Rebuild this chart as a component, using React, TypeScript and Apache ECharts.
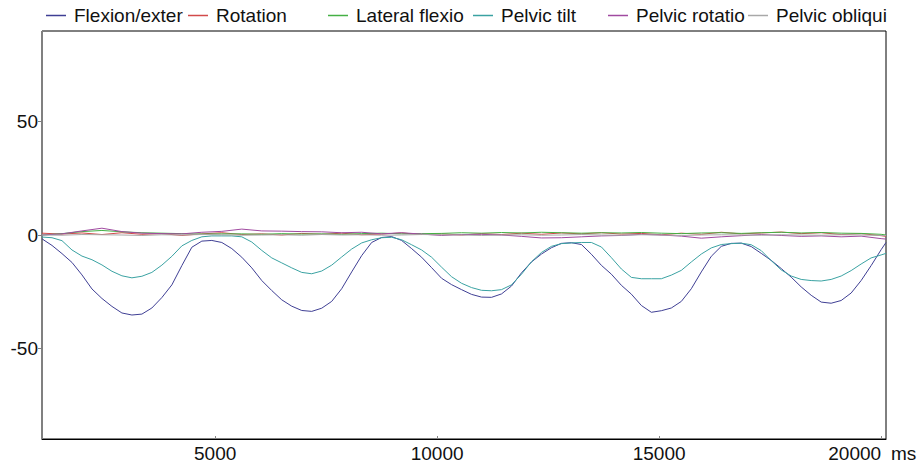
import React, { useEffect, useRef } from "react";
import * as echarts from "echarts";

const FONT = '"Liberation Sans", Arial, Helvetica, sans-serif';

// Series names as shown in the legend
const seriesNames = [
  "Flexion/exter",
  "Rotation",
  "Lateral flexio",
  "Pelvic tilt",
  "Pelvic rotatio",
  "Pelvic obliqui",
];

const xTickValues = [5000, 10000, 15000, 20000];
const yTickValues = [-50, 0, 50];

// Sample times (ms) for the two large-amplitude curves
const timesMain = [
  1100, 1325, 1550, 1775, 2000, 2225, 2450, 2675, 2900, 3125,
  3350, 3575, 3800, 4025, 4250, 4475, 4700, 4925, 5150, 5375,
  5600, 5825, 6050, 6275, 6500, 6725, 6950, 7175, 7400, 7625,
  7850, 8075, 8300, 8525, 8750, 8975, 9200, 9425, 9650, 9875,
  10100, 10325, 10550, 10775, 11000, 11225, 11450, 11675, 11900, 12125,
  12350, 12575, 12800, 13025, 13250, 13475, 13700, 13925, 14150, 14375,
  14600, 14825, 15050, 15275, 15500, 15725, 15950, 16175, 16400, 16625,
  16850, 17075, 17300, 17525, 17750, 17975, 18200, 18425, 18650, 18875,
  19100, 19325, 19550, 19775, 20000, 20110,
];

const flexionExtension = [
  -1.7, -4.6, -8.2, -12.1, -17.6, -23.8, -28.0, -31.5, -34.4, -35.3,
  -34.9, -32.2, -27.6, -22.0, -13.5, -5.4, -2.7, -2.4, -3.3, -6.0,
  -9.8, -14.5, -20.1, -24.5, -28.6, -31.4, -33.3, -33.7, -32.3, -29.3,
  -23.7, -16.3, -9.1, -3.3, -1.1, -0.7, -2.4, -6.0, -9.8, -14.4,
  -19.1, -21.9, -24.1, -26.2, -27.4, -27.5, -26.0, -22.5, -16.7, -11.9,
  -8.4, -5.6, -3.7, -3.4, -4.2, -8.5, -13.4, -17.3, -22.2, -26.1,
  -31.1, -34.1, -33.4, -32.2, -29.3, -23.7, -16.3, -9.4, -5.0, -3.7,
  -3.6, -5.1, -8.1, -11.2, -14.8, -18.6, -22.9, -26.6, -29.6, -30.1,
  -28.9, -25.6, -20.1, -13.5, -6.5, -3.3,
];

const pelvicTilt = [
  -0.9, -1.2, -2.5, -6.6, -9.3, -10.9, -13.2, -16.0, -18.0, -18.9,
  -18.2, -16.5, -13.3, -9.4, -4.8, -2.4, -0.8, -0.4, -0.4, -0.4,
  -0.8, -3.1, -6.8, -10.1, -12.3, -14.5, -16.5, -17.1, -15.9, -13.3,
  -9.7, -6.2, -3.5, -2.1, -1.2, -1.0, -2.1, -4.3, -6.6, -9.8,
  -14.2, -18.4, -21.3, -23.2, -24.4, -24.6, -24.1, -22.0, -17.3, -11.8,
  -7.7, -5.0, -3.8, -3.5, -3.3, -3.3, -5.3, -10.0, -15.0, -18.7,
  -19.3, -19.3, -19.3, -17.7, -15.6, -11.9, -8.4, -5.7, -4.2, -3.8,
  -3.6, -4.3, -6.9, -11.3, -15.4, -18.1, -19.6, -20.1, -20.3, -19.6,
  -18.1, -15.7, -12.8, -10.1, -8.8, -8.1,
];

// Sample times (ms) for the near-zero curves
const timesSmall = [
  1100, 1550, 2000, 2450, 2900, 3350, 3800, 4250, 4700, 5150,
  5600, 6050, 6500, 6950, 7400, 7850, 8300, 8750, 9200, 9650,
  10100, 10550, 11000, 11450, 11900, 12350, 12800, 13250, 13700, 14150,
  14600, 15050, 15500, 15950, 16400, 16850, 17300, 17750, 18200, 18650,
  19100, 19550, 20000, 20110,
];

const rotation = [
  0.8, 0.4, 0.9, 0.2, 1.0, 0.3, 0.6, -0.2, 0.5, 1.0,
  0.2, 0.5, 0.0, 0.7, 0.3, 0.8, 0.1, 0.4, 0.9, 0.2,
  0.5, 0.0, 0.6, 0.2, 0.8, 0.3, 0.9, 0.5, 1.0, 0.4,
  0.7, 0.1, 0.8, 0.3, 1.2, 0.5, 0.9, 1.3, 0.6, 1.0,
  0.2, 0.6, -0.3, -0.6,
];

const lateralFlexion = [
  0.0, 0.6, 1.5, 2.0, 1.4, 1.0, 0.8, 0.6, 0.4, 0.5,
  0.5, 0.3, 0.6, 0.4, 0.5, 0.3, 0.6, 0.8, 0.5, 0.6,
  0.7, 1.0, 0.8, 1.1, 0.9, 1.2, 1.0, 0.8, 1.0, 0.9,
  1.1, 0.8, 0.6, 0.9, 1.0, 0.7, 1.0, 1.2, 0.9, 1.1,
  0.8, 0.7, 0.3, 0.0,
];

const pelvicRotation = [
  0.0, 0.5, 1.8, 3.0, 1.5, 0.8, 0.6, 0.5, 1.2, 1.6,
  2.6, 1.8, 1.7, 1.5, 1.4, 1.0, 1.2, 0.5, 1.0, 0.4,
  -0.2, 0.2, 0.3, 0.0, -0.6, -1.3, -1.2, -0.8, -0.4, -0.2,
  0.3, 0.0, -0.5, -1.4, -0.8, -0.3, 0.2, -0.2, -0.6, -0.4,
  -0.8, -0.5, -1.6, -1.8,
];

const pelvicObliquity = [
  0.0, -0.1, 0.2, 0.1, 0.0, -0.2, 0.1, 0.0, 0.2, 0.1,
  -0.1, 0.0, 0.1, -0.1, 0.2, 0.0, 0.1, -0.1, 0.0, 0.2,
  0.1, 0.0, -0.2, 0.0, 0.1, -0.1, 0.0, 0.2, 0.0, -0.1,
  0.1, 0.0, -0.2, 0.0, 0.1, 0.0, -0.1, 0.1, 0.0, -0.1,
  0.1, 0.0, -0.2, -0.3,
];

const colors = ["#3f3f94", "#d24a4a", "#45b045", "#3aa2a2", "#a04aa0", "#a8a8a8"];
const legendLefts = [46, 188, 328, 473, 608, 748];

function pairs(t: number[], v: number[]) {
  return t.map((x, i) => [x, v[i]]);
}

export default function App() {
  const ref = useRef<HTMLDivElement>(null);

  useEffect(() => {
    if (!ref.current) return;
    const chart = echarts.init(ref.current, null, { renderer: "svg" });

    const seriesData = [
      pairs(timesMain, flexionExtension),
      pairs(timesSmall, rotation),
      pairs(timesSmall, lateralFlexion),
      pairs(timesMain, pelvicTilt),
      pairs(timesSmall, pelvicRotation),
      pairs(timesSmall, pelvicObliquity),
    ];

    const textStyle = { fontFamily: FONT, fontSize: 19, color: "#111" };

    chart.setOption({
      animation: false,
      color: colors,
      textStyle: { fontFamily: FONT },
      legend: seriesNames.map((name, i) => ({
        data: [name],
        left: legendLefts[i],
        top: 6,
        padding: 0,
        itemGap: 0,
        itemWidth: 20,
        itemHeight: 1.5,
        icon: "rect",
        selectedMode: false,
        textStyle: { ...textStyle, padding: [0, 0, 0, 3] },
      })),
      grid: {
        left: 42,
        right: 36,
        top: 31,
        bottom: 31,
        show: true,
        borderColor: "#000",
        borderWidth: 1,
        backgroundColor: "transparent",
      },
      xAxis: {
        type: "value",
        min: 1100,
        max: 20110,
        name: "ms",
        nameLocation: "end",
        nameGap: 5,
        nameTextStyle: { ...textStyle, verticalAlign: "top", padding: [5, 0, 0, 0] },
        axisLine: { show: true, onZero: false, lineStyle: { color: "#000", width: 1 } },
        axisTick: {
          show: true,
          inside: true,
          length: 3,
          customValues: xTickValues,
          lineStyle: { color: "#888" },
        },
        axisLabel: {
          ...textStyle,
          margin: 5,
          customValues: xTickValues,
          alignMaxLabel: "right",
          formatter: (v: number) => String(v),
        },
        splitLine: { show: false },
      },
      yAxis: {
        type: "value",
        min: -90,
        max: 90,
        axisLine: { show: true, onZero: false, lineStyle: { color: "#808080", width: 1 } },
        axisTick: {
          show: true,
          inside: false,
          length: 4,
          customValues: yTickValues,
          lineStyle: { color: "#808080" },
        },
        axisLabel: {
          ...textStyle,
          margin: 4,
          customValues: yTickValues,
          formatter: (v: number) => String(v),
        },
        splitLine: { show: false },
      },
      series: seriesNames.map((name, i) => ({
        name,
        type: "line",
        data: seriesData[i],
        showSymbol: false,
        symbol: "none",
        lineStyle: { width: 1, color: colors[i] },
        itemStyle: { color: colors[i] },
        z: i === 0 || i === 3 ? 2 : 3,
      })),
    });

    return () => chart.dispose();
  }, []);

  return (
    <div
      ref={ref}
      style={{ position: "fixed", left: 0, top: 0, width: 922, height: 470, background: "#fff" }}
    />
  );
}
